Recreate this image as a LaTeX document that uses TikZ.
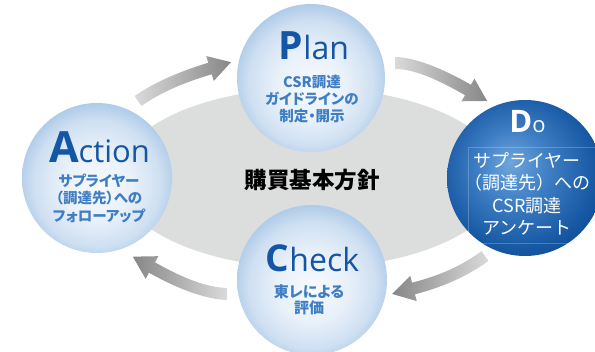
\documentclass[tikz,border=0pt]{standalone}
\usepackage{fontspec}
\setmainfont{Open Sans}
\newfontfamily\jp{Noto Sans CJK JP}
\newfontfamily\jpp{Noto Sans CJK JP}[RawFeature=+palt]
\usetikzlibrary{calc}
\definecolor{ellgray}{HTML}{DCDDDD}
\definecolor{titleblue}{HTML}{1356A6}
\definecolor{textblue}{HTML}{3F7EC3}
\definecolor{sphA}{HTML}{F7FAFD}
\definecolor{sphB}{HTML}{E8F0F9}
\definecolor{sphC}{HTML}{CFE0F2}
\definecolor{sphD}{HTML}{A5C5E6}
\definecolor{doA}{HTML}{6EA6DC}
\definecolor{doB}{HTML}{3D7DC3}
\definecolor{doC}{HTML}{1A5BA6}
\definecolor{doD}{HTML}{0B4792}
\definecolor{arrLight}{HTML}{DADADA}
\definecolor{arrDark}{HTML}{878787}
\pgfdeclareradialshading{lightsphere}{\pgfpoint{0bp}{-3bp}}{color(0bp)=(sphA); color(12bp)=(sphB); color(21bp)=(sphC); color(28bp)=(sphD); color(50bp)=(sphD)}
\pgfdeclareradialshading{darksphere}{\pgfpoint{-5bp}{5bp}}{color(0bp)=(doA); color(12bp)=(doB); color(24bp)=(doC); color(32bp)=(doD); color(50bp)=(doD)}
% curved block arrow: #1 tail, #2 control, #3 head base, #4 left colour, #5 right colour
\newcommand\pdcaArrow[5]{%
  \coordinate (ka) at ($(#1)!0.667!(#2)$);
  \coordinate (kb) at ($(#3)!0.667!(#2)$);
  \coordinate (tA) at ($(#1)!6pt!90:(#2)$);
  \coordinate (tB) at ($(#1)!6pt!-90:(#2)$);
  \coordinate (kaA) at ($(ka)!6pt!90:(#2)$);
  \coordinate (kaB) at ($(ka)!6pt!-90:(#2)$);
  \coordinate (kbA) at ($(kb)!6pt!-90:(#2)$);
  \coordinate (kbB) at ($(kb)!6pt!90:(#2)$);
  \coordinate (hA) at ($(#3)!6pt!-90:(#2)$);
  \coordinate (hB) at ($(#3)!6pt!90:(#2)$);
  \coordinate (wA) at ($(#3)!13pt!-90:(#2)$);
  \coordinate (wB) at ($(#3)!13pt!90:(#2)$);
  \coordinate (tip) at ($(#3)!-22pt!(#2)$);
  \shade[left color=#4, right color=#5]
    (tA) .. controls (kaA) and (kbA) .. (hA) -- (wA) -- (tip) -- (wB) -- (hB)
    .. controls (kbB) and (kaB) .. (tB) -- cycle;
}
\tikzset{
  lightball/.style={circle, minimum size=#1, inner sep=0pt, shade, shading=lightsphere},
  darkball/.style={circle, minimum size=#1, inner sep=0pt, shade, shading=darksphere},
  titletext/.style={anchor=base, inner sep=0pt, text=titleblue},
  subtext/.style={align=center, inner sep=0pt, text=textblue},
}
\begin{document}
\begin{tikzpicture}[x=1pt,y=-1pt]
\useasboundingbox (0,0) rectangle (595,352);
\fill[white] (0,0) rectangle (595,352);
% central ellipse
\fill[ellgray] (310,178) ellipse [x radius=193, y radius=90];
% arrows
\coordinate (a1t) at (138,101); \coordinate (a1c) at (165,82); \coordinate (a1h) at (210,68.5);
\coordinate (a2t) at (395,63); \coordinate (a2c) at (421,63); \coordinate (a2h) at (468,90);
\coordinate (a3t) at (485,256); \coordinate (a3c) at (456,277.6); \coordinate (a3h) at (413.5,288.5);
\coordinate (a4t) at (227,294); \coordinate (a4c) at (197,293); \coordinate (a4h) at (152,267.5);
\pdcaArrow{a1t}{a1c}{a1h}{arrLight}{arrDark}
\pdcaArrow{a2t}{a2c}{a2h}{arrLight}{arrDark}
\pdcaArrow{a3t}{a3c}{a3h}{arrDark}{arrLight}
\pdcaArrow{a4t}{a4c}{a4h}{arrDark}{arrLight}
% spheres
\node[lightball=148pt] (plan) at (311,78) {};
\node[lightball=150pt] (action) at (97,178) {};
\node[lightball=150pt] (check) at (312,280) {};
\node[darkball=156pt] (do) at (525,178) {};
\draw[white, opacity=0.22, line width=0.6pt] (468,147) rectangle (600,243);
% centre text
\node[font=\jp\bfseries\fontsize{22.5}{24}\selectfont, text=black] (policy) at (312,180) {購買基本方針};
% Plan
\node[titletext] (plantitle) at (314,60) {{\fontsize{39}{39}\selectfont\bfseries P}{\fontsize{32}{32}\selectfont lan}};
\node[subtext, font=\jpp\bfseries\fontsize{14.5}{16.8}\selectfont] (plantext) at (312,99) {CSR調達\\ガイドラインの\\制定・開示};
% Action
\node[titletext] (actiontitle) at (99.5,163) {{\fontsize{43}{43}\selectfont\bfseries A}{\fontsize{31}{31}\selectfont ction}};
\node[subtext, font=\jpp\bfseries\fontsize{14.5}{17.5}\selectfont] (actiontext) at (99,198) {サプライヤー\\（調達先）への\\フォローアップ};
% Do
\node[titletext, text=white] (dotitle) at (527.5,133) {{\fontsize{31}{31}\selectfont\bfseries D}{\fontsize{22}{22}\selectfont o}};
\node[subtext, text=white, font=\jp\fontsize{18}{22.3}\selectfont] (dotext) at (527,194) {サプライヤー\\（調達先）への\\CSR調達\\アンケート};
% Check
\node[titletext] (checktitle) at (312.5,272) {{\fontsize{37}{37}\selectfont\bfseries C}{\fontsize{32}{32}\selectfont heck}};
\node[subtext, font=\jpp\bfseries\fontsize{15}{16.5}\selectfont] (checktext) at (309,300) {東レによる\\評価};
\end{tikzpicture}
\end{document}
